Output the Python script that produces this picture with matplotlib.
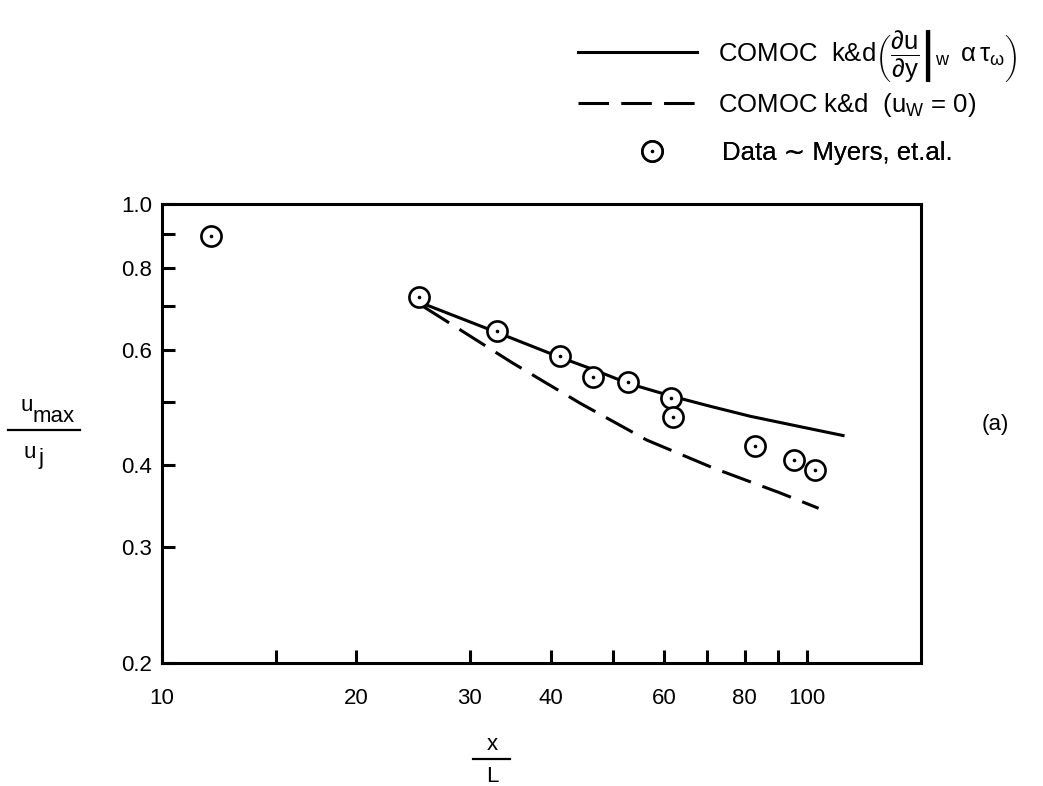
import matplotlib
matplotlib.use("Agg")
import matplotlib.pyplot as plt
from matplotlib.legend_handler import HandlerTuple
from matplotlib.lines import Line2D
from matplotlib.ticker import FixedLocator, NullFormatter, NullLocator

plt.rcParams["font.family"] = ["Liberation Sans", "DejaVu Sans"]
plt.rcParams["mathtext.fontset"] = "custom"
plt.rcParams["mathtext.rm"] = "Liberation Sans"
plt.rcParams["mathtext.it"] = "Liberation Sans:italic"
plt.rcParams["mathtext.default"] = "regular"

# measured centreline velocity decay (Myers et al.)
x_data = [11.9, 25.0, 33.1, 41.4, 46.5, 52.8, 61.5, 62.0, 83.1, 95.2, 102.6]
y_data = [0.894, 0.722, 0.640, 0.587, 0.546, 0.535, 0.506, 0.474, 0.428, 0.408, 0.393]

# COMOC k&d, wall shear from du/dy
x_shear = [25.3, 33.1, 41.4, 46.5, 52.8, 61.5, 70.7, 81.6, 97.5, 113.6]
y_shear = [0.706, 0.637, 0.584, 0.560, 0.533, 0.510, 0.492, 0.475, 0.458, 0.444]

# COMOC k&d, no-slip wall (u_w = 0)
x_noslip = [25.4, 29.0, 35.0, 44.5, 56.4, 71.6, 90.8, 104.1]
y_noslip = [0.698, 0.643, 0.572, 0.497, 0.437, 0.396, 0.363, 0.344]

x_ticks = [10, 15, 20, 30, 40, 50, 60, 70, 80, 90, 100]
x_labels = ["10", "", "20", "30", "40", "", "60", "", "80", "", "100"]
y_ticks = [0.2, 0.3, 0.4, 0.5, 0.6, 0.7, 0.8, 0.9, 1.0]
y_labels = ["0.2", "0.3", "0.4", "", "0.6", "", "0.8", "", "1.0"]

W, H = 1043, 786
fig = plt.figure(figsize=(W / 100, H / 100), dpi=100)
ax = fig.add_axes([0.1553, 0.1565, 0.7277, 0.584])
ax.set_xscale("log")
ax.set_yscale("log")
ax.set_xlim(10, 150)
ax.set_ylim(0.2, 1.0)

lw = 2.2
h_solid, = ax.plot(x_shear, y_shear, color="black", lw=lw, zorder=2)
h_dash, = ax.plot(x_noslip, y_noslip, color="black", lw=lw, dashes=(10, 4), zorder=2)
h_circ, = ax.plot(x_data, y_data, ls="none", marker="o", ms=14.5, mfc="white",
                  mec="black", mew=1.9, zorder=3)
h_dot, = ax.plot(x_data, y_data, ls="none", marker="o", ms=2.6, mfc="black",
                 mec="black", mew=0, zorder=4)

ax.xaxis.set_major_locator(FixedLocator(x_ticks))
ax.set_xticklabels(x_labels)
ax.xaxis.set_minor_locator(NullLocator())
ax.xaxis.set_minor_formatter(NullFormatter())
ax.yaxis.set_major_locator(FixedLocator(y_ticks))
ax.set_yticklabels(y_labels)
ax.yaxis.set_minor_locator(NullLocator())
ax.yaxis.set_minor_formatter(NullFormatter())

ax.tick_params(axis="both", which="major", direction="in", length=9.5, width=2.2,
               labelsize=16, colors="black")
ax.tick_params(axis="x", pad=18)
ax.tick_params(axis="y", pad=7)
for sp in ax.spines.values():
    sp.set_linewidth(2.2)


def fpos(x, y):
    # pixel position (from top-left) -> figure fraction
    return x / W, 1 - y / H


def frac_bar(x0, x1, y):
    (a, yy), (b, _) = fpos(x0, y), fpos(x1, y)
    fig.add_artist(Line2D([a, b], [yy, yy], transform=fig.transFigure,
                          color="black", lw=1.6))


# axis labels written as stacked fractions, subscripts kept full size
lab = dict(fontsize=16, va="baseline")
fig.text(*fpos(33, 411), "u", ha="right", **lab)
fig.text(*fpos(33, 422), "max", ha="left", **lab)
frac_bar(8, 80, 430)
fig.text(*fpos(36, 458), "u", ha="right", **lab)
fig.text(*fpos(39, 464), "j", ha="left", **lab)

fig.text(*fpos(492, 750), "x", ha="center", **lab)
frac_bar(473, 510, 759)
fig.text(*fpos(492, 782), "L", ha="center", **lab)

ax.text(1.0975, 0.5185, "(a)", transform=ax.transAxes, fontsize=16,
        ha="center", va="center")

# legend: one entry per box so each row sits at its own height
entries = [
    (h_solid,
     r"COMOC  k&d$\left(\left.\dfrac{\partial u}{\partial y}\right|_{w}\;\; \alpha\,\tau_{\omega}\right)$",
     0.548, 1.322, 4.63, 0.82),
    (h_dash, r"COMOC k&d  (u$_{W}$ = 0)", 0.548, 1.2157, 4.63, 0.82),
    ((h_circ, h_dot), "Data \u223c Myers, et.al.", 0.629, 1.1111, 1.0, 2.2),
]
for handle, text, x0, y0, hlen, hpad in entries:
    leg = ax.legend([handle], [text], handler_map={tuple: HandlerTuple(ndivide=1)},
                    loc="center left", bbox_to_anchor=(x0, y0), frameon=False,
                    fontsize=18.5, handlelength=hlen, handletextpad=hpad,
                    borderpad=0, borderaxespad=0)
    ax.add_artist(leg)

fig.savefig("out.png", dpi=100)
